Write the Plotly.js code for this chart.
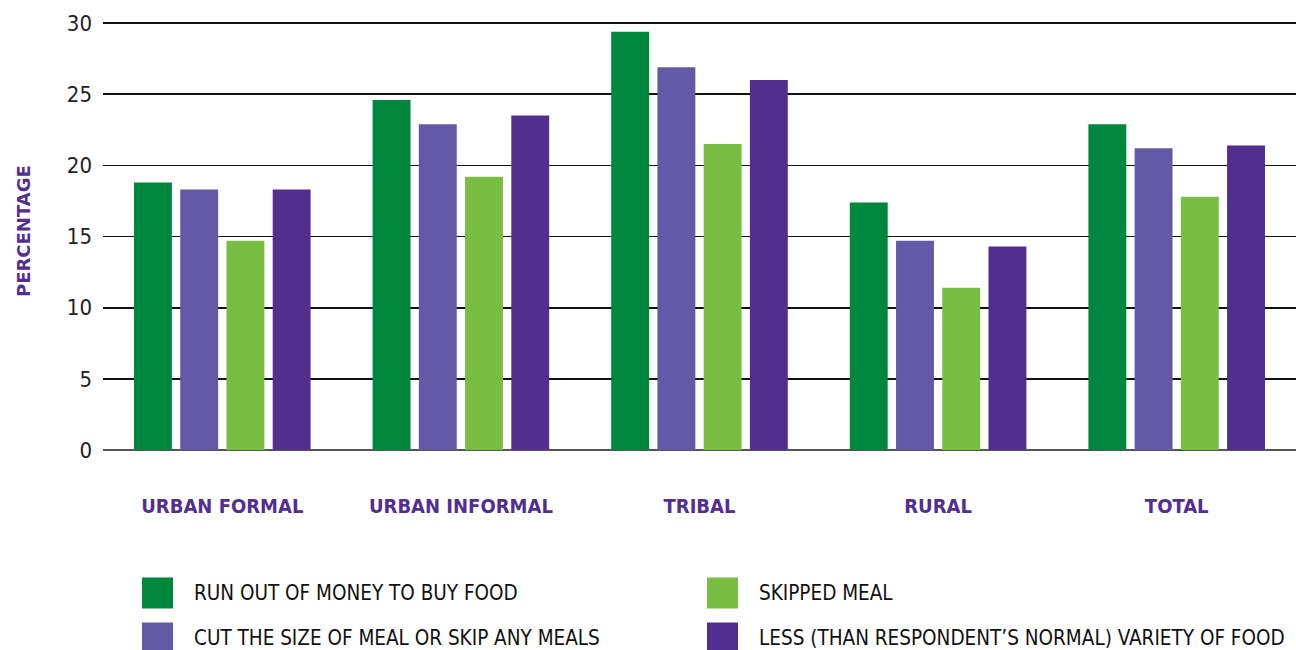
<!DOCTYPE html>
<html><head><meta charset="utf-8">
<script src="https://cdn.plot.ly/plotly-3.0.1.min.js"></script>
<style>html,body{margin:0;padding:0;background:#fff}#chart{width:1296px;height:650px}</style>
</head><body><div id="chart"></div>
<script>
const categories = ['URBAN FORMAL','URBAN INFORMAL','TRIBAL','RURAL','TOTAL'];
const seriesNames = ['RUN OUT OF MONEY TO BUY FOOD','CUT THE SIZE OF MEAL OR SKIP ANY MEALS','SKIPPED MEAL','LESS (THAN RESPONDENT’S NORMAL) VARIETY OF FOOD'];
const runOutOfMoney = [18.8, 24.6, 29.4, 17.4, 22.9];
const cutSizeOfMeal = [18.3, 22.9, 26.9, 14.7, 21.2];
const skippedMeal   = [14.7, 19.2, 21.5, 11.4, 17.8];
const lessVariety   = [18.3, 23.5, 26.0, 14.3, 21.4];
const yTicks = [0, 5, 10, 15, 20, 25, 30];
const colors = ['#00873e', '#6459a6', '#78be43', '#522e8f'];

const seriesValues = [runOutOfMoney, cutSizeOfMeal, skippedMeal, lessVariety];
const FONT = '"Liberation Sans Narrow", "DejaVu Sans Condensed", "Roboto", sans-serif';
const PURPLE = '#522e8f';

const traces = seriesValues.map((vals, i) => ({
  type: 'bar', x: categories, y: vals, name: seriesNames[i],
  marker: {color: colors[i]}, showlegend: false, hoverinfo: 'x+y+name'
}));

// plot box in pixels (for the hand-drawn legend placed outside the plot)
const L = 103, T = 16, W = 1193, H = 434;
const px = x => (x - L) / W;
const py = y => (T + H - y) / H;
const legendPos = [[0,142,593],[2,707,593],[1,142,638],[3,707,638]];
const shapes = [], annotations = [];
legendPos.forEach(([i, x, y]) => {
  shapes.push({type:'rect', xref:'paper', yref:'paper', x0:px(x), x1:px(x+31), y0:py(y-15.5), y1:py(y+15.5), fillcolor:colors[i], line:{width:0}});
  annotations.push({xref:'paper', yref:'paper', x:px(x+50), y:py(y), xanchor:'left', yanchor:'middle', showarrow:false,
    text: seriesNames[i], font:{family:FONT, size:20.5, color:'#111'}});
});
annotations.push({xref:'paper', yref:'paper', x:px(23), y:py(231), xanchor:'center', yanchor:'middle', showarrow:false,
  textangle:-90, text:'<b>PERCENTAGE</b>', font:{family:'"DejaVu Sans", sans-serif', size:18, color:PURPLE}});

const layout = {
  width: 1296, height: 650,
  margin: {l: L, r: 0, t: T, b: 650 - T - H},
  paper_bgcolor: '#fff', plot_bgcolor: '#fff',
  barmode: 'group', bargap: 0.225, bargroupgap: 0.18,
  showlegend: false,
  xaxis: {
    type: 'category', showgrid: false, showline: false, zeroline: false,
    ticks: '', ticklabelstandoff: 42,
    tickfont: {family: FONT, size: 20, color: PURPLE, weight: 'bold'},
    fixedrange: true
  },
  yaxis: {
    range: [0, 30.5], tickvals: yTicks, ticktext: yTicks.map(String),
    showgrid: true, gridcolor: '#111', gridwidth: 1.6,
    zeroline: true, zerolinecolor: '#555', zerolinewidth: 2,
    showline: false, ticks: '', ticklabelstandoff: 10,
    tickfont: {family: FONT, size: 22, color: '#222'},
    fixedrange: true
  },
  shapes: shapes, annotations: annotations,
  font: {family: FONT}
};
Plotly.newPlot('chart', traces, layout, {displayModeBar: false, staticPlot: true});
</script></body></html>
